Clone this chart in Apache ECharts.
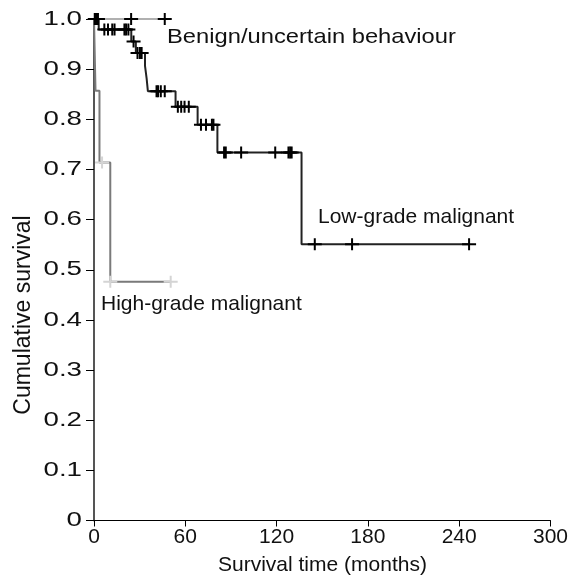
<!DOCTYPE html>
<html>
<head>
<meta charset="utf-8">
<script src="https://cdn.jsdelivr.net/npm/echarts@6/dist/echarts.min.js"></script>
<style>
html,body{margin:0;padding:0;background:#fff;}
#chart{width:571px;height:579px;}
</style>
</head>
<body>
<div id="chart"></div>
<script>
// ---- Data ----
const xTickValues = [0, 60, 120, 180, 240, 300];
const yTickValues = [0, 0.1, 0.2, 0.3, 0.4, 0.5, 0.6, 0.7, 0.8, 0.9, 1.0];
const yTickLabels = ['0', '0.1', '0.2', '0.3', '0.4', '0.5', '0.6', '0.7', '0.8', '0.9', '1.0'];

// Benign / uncertain behaviour
const benignTimes    = [0, 46.5];
const benignSurvival = [1.0, 1.0];
const benignCensorTimes    = [1.0, 24.4, 46.5];
const benignCensorSurvival = [1.0, 1.0, 1.0];

// Low-grade malignant
const lowTimes    = [0, 3.1, 24.5, 27.5, 33.5, 34.6, 35.4, 53.6, 68.1, 81.1, 136.4, 246.5];
const lowSurvival = [1.0, 0.979, 0.955, 0.932, 0.907, 0.881, 0.856, 0.825, 0.789, 0.734, 0.551, 0.551];
const lowCensorTimes = [0.5, 1.2, 2.0, 2.6,
  6.8, 9.2, 12.0, 13.5, 20.0, 21.1, 22.6,
  26.0,
  28.6, 30.2, 31.3,
  41.1, 42.1, 43.9, 46.5,
  55.1, 57.3, 59.5, 62.3,
  70.3, 73.6, 77.5, 78.5,
  85.5, 86.6, 96.7, 119.1, 127.8, 128.9, 129.9,
  145.1, 169.6, 246.5];
const lowCensorSurvival = [1.0, 1.0, 1.0, 1.0,
  0.979, 0.979, 0.979, 0.979, 0.979, 0.979, 0.979,
  0.955,
  0.932, 0.932, 0.932,
  0.856, 0.856, 0.856, 0.856,
  0.825, 0.825, 0.825, 0.825,
  0.789, 0.789, 0.789, 0.789,
  0.734, 0.734, 0.734, 0.734, 0.734, 0.734, 0.734,
  0.551, 0.551, 0.551];

// High-grade malignant
const highTimes    = [0, 1.0, 3.6, 10.7, 50.4];
const highSurvival = [1.0, 0.857, 0.714, 0.476, 0.476];
const highCensorTimes    = [5.3, 10.7, 50.4];
const highCensorSurvival = [0.714, 0.476, 0.476];

// ---- Chart ----
const FONT = "'Liberation Sans', Arial, sans-serif";
const CROSS = 'path://M0,5H6V0H8V5H14V7H8V12H6V7H0Z';
const zip = (a, b) => a.map((v, i) => [v, b[i]]);

const chart = echarts.init(document.getElementById('chart'), null, {renderer: 'canvas'});

function stepLine(name, times, surv, color, width, z) {
  return {
    name, type: 'line', step: 'end', data: zip(times, surv),
    showSymbol: false, symbol: 'none', silent: true, z,
    lineStyle: {color, width}
  };
}
function censor(name, times, surv, color, z) {
  return {
    name, type: 'scatter', data: zip(times, surv), symbol: CROSS,
    symbolSize: [14, 12], silent: true, z,
    itemStyle: {color, opacity: 1}
  };
}

chart.setOption({
  animation: false,
  grid: {left: 94, right: 17.5, top: 19, bottom: 58.5},
  xAxis: {
    type: 'value', min: 0, max: 300, interval: 60,
    axisLine: {lineStyle: {color: '#000', width: 1}},
    axisTick: {inside: false, length: 6, lineStyle: {color: '#000', width: 1}},
    axisLabel: {fontFamily: FONT, fontSize: 21, color: '#111', margin: 6,
      formatter: v => xTickValues.includes(v) ? String(v) : ''},
    splitLine: {show: false}
  },
  yAxis: {
    type: 'value', min: 0, max: 1.0, interval: 0.1,
    axisLine: {lineStyle: {color: '#555', width: 2}},
    axisTick: {inside: false, length: 8, lineStyle: {color: '#000', width: 1}},
    axisLabel: {show: false},
    splitLine: {show: false}
  },
  series: [
    stepLine('Benign/uncertain behaviour', benignTimes, benignSurvival, '#b0b0b0', 2, 2),
    stepLine('High-grade malignant', highTimes, highSurvival, '#7a7a7a', 2, 3),
    stepLine('Low-grade malignant', lowTimes, lowSurvival, '#222', 2, 4),
    censor('High-grade censored', highCensorTimes, highCensorSurvival, '#d4d4d4', 5),
    censor('Benign censored', benignCensorTimes, benignCensorSurvival, '#000', 6),
    censor('Low-grade censored', lowCensorTimes, lowCensorSurvival, '#000', 7)
  ]
});

// y tick labels: positioned by the y axis scale (wide lettering as in the reference)
const axisX = chart.convertToPixel({xAxisIndex: 0}, 0);
const yLabelGraphics = yTickValues.map((v, i) => ({
  type: 'text',
  x: axisX - 12,
  y: chart.convertToPixel({yAxisIndex: 0}, v),
  scaleX: 1.35,
  style: {text: yTickLabels[i], font: '20.5px ' + FONT, fill: '#111', align: 'right', verticalAlign: 'middle'}
}));

chart.setOption({
  graphic: yLabelGraphics.concat([
    {type: 'text', x: 167, y: 27, scaleX: 1.13,
      style: {text: 'Benign/uncertain behaviour', font: '21px ' + FONT, fill: '#111'}},
    {type: 'text', x: 318, y: 207, style: {text: 'Low-grade malignant', font: '21px ' + FONT, fill: '#111'}},
    {type: 'text', x: 101, y: 294, style: {text: 'High-grade malignant', font: '21px ' + FONT, fill: '#111'}},
    {type: 'text', x: 218, y: 555, style: {text: 'Survival time (months)', font: '21px ' + FONT, fill: '#111'}},
    {type: 'text', x: 24, y: 315, rotation: Math.PI / 2,
      style: {text: 'Cumulative survival', font: '23px ' + FONT, fill: '#111', align: 'center', verticalAlign: 'middle'}}
  ])
});
</script>
</body>
</html>
